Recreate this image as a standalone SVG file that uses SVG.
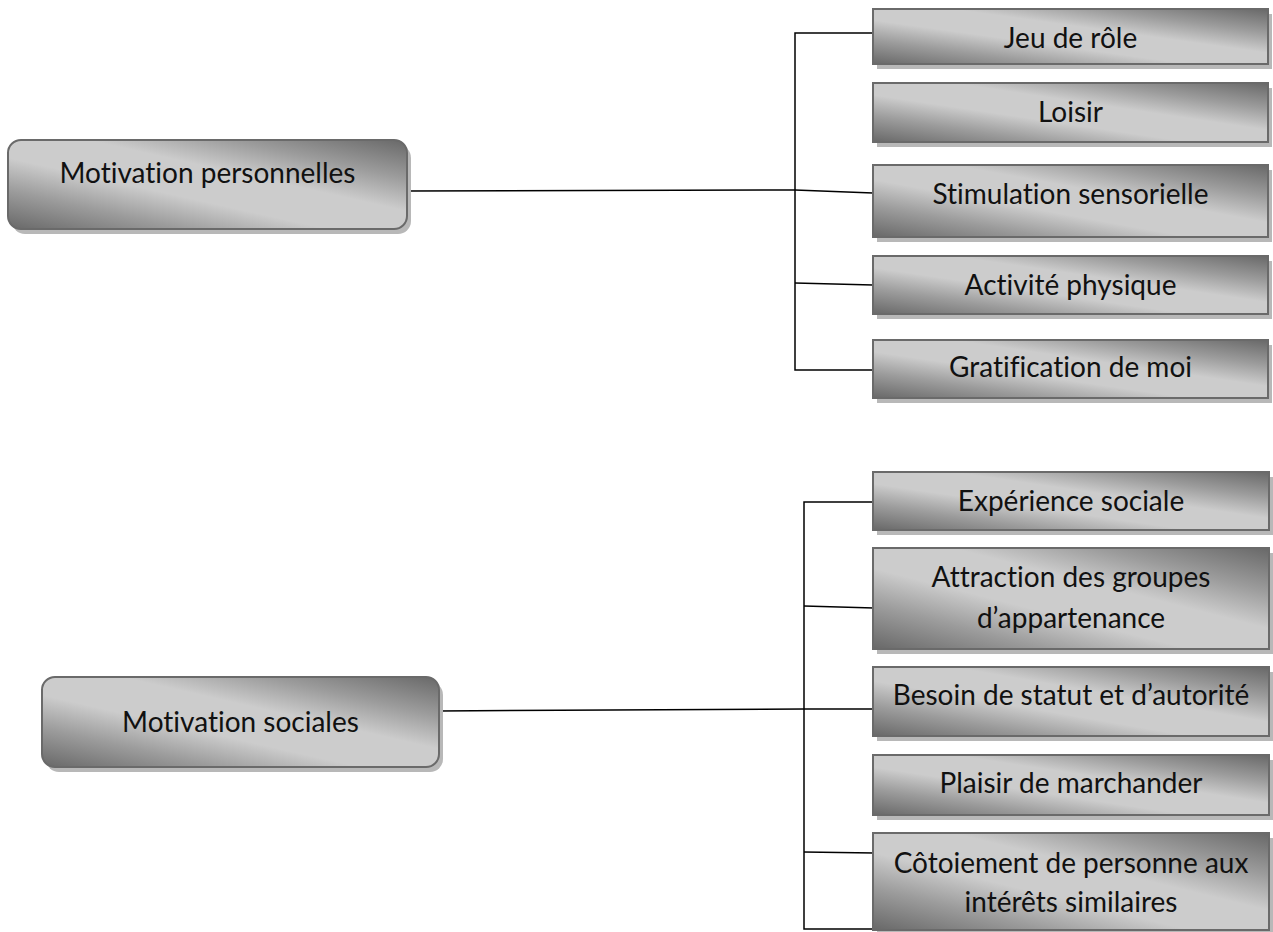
<svg xmlns="http://www.w3.org/2000/svg" width="1273" height="932" viewBox="0 0 1273 932">
  <defs>
    <!-- brushed-metal fill: dark at bottom-left and top-right, light along the diagonal -->
    <linearGradient id="chrome" x1="0" y1="1" x2="1" y2="0">
      <stop offset="0" stop-color="#686868"/>
      <stop offset="0.22" stop-color="#9c9c9c"/>
      <stop offset="0.40" stop-color="#cccccc"/>
      <stop offset="0.60" stop-color="#cccccc"/>
      <stop offset="0.78" stop-color="#9c9c9c"/>
      <stop offset="1" stop-color="#686868"/>
    </linearGradient>
    <style>
      .shadow { fill: #b8b8b8; }
      .box { fill: url(#chrome); stroke: #6a6a6a; stroke-width: 2; }
      .label { font-family: Lato, "Liberation Sans", sans-serif; font-size: 28px; fill: #111111; text-anchor: middle; font-variant-ligatures: none; }
      .link { fill: none; stroke: #000000; stroke-width: 1.5; }
    </style>
  </defs>

  <rect width="1273" height="932" fill="#ffffff"/>

  <!-- connectors -->
  <g id="connectors">
    <!-- personal motivations -->
    <polyline class="link" points="407,191 795,190 873,193"/>
    <polyline class="link" points="873,33 795,33 795,370 873,370"/>
    <line class="link" x1="795" y1="283" x2="873" y2="285"/>
    <!-- social motivations -->
    <polyline class="link" points="439,711 804,709 874,709"/>
    <polyline class="link" points="874,502 804,502 804,929 874,929"/>
    <line class="link" x1="804" y1="606" x2="874" y2="608"/>
    <line class="link" x1="804" y1="852" x2="874" y2="853"/>
  </g>

  <!-- root nodes -->
  <g id="motivation-personnelles">
    <rect class="shadow" x="12" y="145" width="399" height="89" rx="13"/>
    <rect class="box" x="8" y="140" width="399" height="89" rx="13"/>
    <text class="label" x="207.5" y="183">Motivation personnelles</text>
  </g>
  <g id="motivation-sociales">
    <rect class="shadow" x="46" y="682" width="397" height="90" rx="13"/>
    <rect class="box" x="42" y="677" width="397" height="90" rx="13"/>
    <text class="label" x="240.5" y="732">Motivation sociales</text>
  </g>

  <!-- personal motivation items -->
  <g id="jeu-de-role">
    <rect class="shadow" x="877" y="14" width="395" height="55"/>
    <rect class="box" x="873" y="9" width="395" height="55"/>
    <text class="label" x="1070.5" y="48">Jeu de rôle</text>
  </g>
  <g id="loisir">
    <rect class="shadow" x="877" y="88" width="395" height="59"/>
    <rect class="box" x="873" y="83" width="395" height="59"/>
    <text class="label" x="1070.5" y="122">Loisir</text>
  </g>
  <g id="stimulation-sensorielle">
    <rect class="shadow" x="877" y="170" width="395" height="72"/>
    <rect class="box" x="873" y="165" width="395" height="72"/>
    <text class="label" x="1070.5" y="204">Stimulation sensorielle</text>
  </g>
  <g id="activite-physique">
    <rect class="shadow" x="877" y="261" width="395" height="58"/>
    <rect class="box" x="873" y="256" width="395" height="58"/>
    <text class="label" x="1070.5" y="295">Activité physique</text>
  </g>
  <g id="gratification-de-moi">
    <rect class="shadow" x="877" y="345" width="395" height="58"/>
    <rect class="box" x="873" y="340" width="395" height="58"/>
    <text class="label" x="1070.5" y="377">Gratification de moi</text>
  </g>

  <!-- social motivation items -->
  <g id="experience-sociale">
    <rect class="shadow" x="877" y="477" width="396" height="58"/>
    <rect class="box" x="873" y="472" width="396" height="58"/>
    <text class="label" x="1071" y="511">Expérience sociale</text>
  </g>
  <g id="attraction-groupes">
    <rect class="shadow" x="877" y="553" width="396" height="101"/>
    <rect class="box" x="873" y="548" width="396" height="101"/>
    <text class="label" x="1071" y="587">Attraction des groupes</text>
    <text class="label" x="1071" y="628">d’appartenance</text>
  </g>
  <g id="besoin-statut">
    <rect class="shadow" x="877" y="672" width="396" height="69"/>
    <rect class="box" x="873" y="667" width="396" height="69"/>
    <text class="label" x="1071" y="705">Besoin de statut et d’autorité</text>
  </g>
  <g id="plaisir-marchander">
    <rect class="shadow" x="877" y="760" width="396" height="60"/>
    <rect class="box" x="873" y="755" width="396" height="60"/>
    <text class="label" x="1071" y="793">Plaisir de marchander</text>
  </g>
  <g id="cotoiement">
    <rect class="shadow" x="877" y="838" width="396" height="97"/>
    <rect class="box" x="873" y="833" width="396" height="97"/>
    <text class="label" x="1071" y="873">Côtoiement de personne aux</text>
    <text class="label" x="1071" y="912">intérêts similaires</text>
  </g>
</svg>
